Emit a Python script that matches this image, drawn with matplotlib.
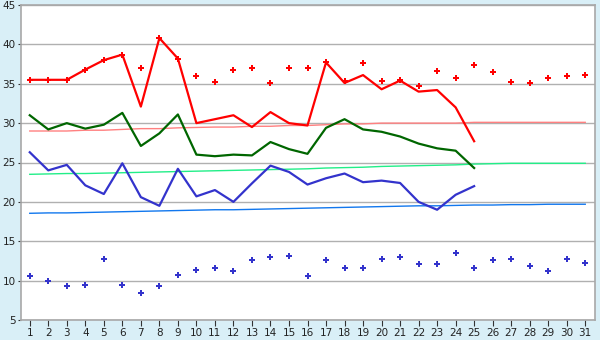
import matplotlib
matplotlib.use("Agg")
import matplotlib.pyplot as plt

days = list(range(1, 32))
obs_days = list(range(1, 26))

max_temp = [35.5, 35.5, 35.5, 36.8, 38.0, 38.7, 32.1, 40.8, 38.2, 30.0,
            30.5, 31.0, 29.5, 31.4, 30.0, 29.7, 37.7, 35.1, 36.1, 34.3,
            35.4, 34.0, 34.2, 32.0, 27.7]
mean_temp = [31.0, 29.2, 30.0, 29.3, 29.8, 31.3, 27.1, 28.7, 31.1, 26.0,
             25.8, 26.0, 25.9, 27.6, 26.7, 26.1, 29.4, 30.5, 29.2, 28.9,
             28.3, 27.4, 26.8, 26.5, 24.3]
min_temp = [26.3, 24.0, 24.7, 22.1, 21.0, 24.9, 20.6, 19.5, 24.2, 20.7,
            21.5, 20.0, 22.35, 24.6, 23.8, 22.2, 23.0, 23.6, 22.5, 22.7,
            22.4, 20.0, 19.0, 20.9, 22.0]

record_max = [35.5, 35.5, 35.5, 36.8, 38.0, 38.7, 37.0, 40.8, 38.2, 36.0,
              35.2, 36.7, 37.0, 35.1, 37.0, 37.0, 37.7, 35.3, 37.6, 35.3,
              35.5, 34.7, 36.6, 35.7, 37.4, 36.5, 35.2, 35.1, 35.7, 36.0,
              36.1]
record_min = [10.6, 9.9, 9.3, 9.4, 12.8, 9.5, 8.4, 9.3, 10.7, 11.4,
              11.6, 11.2, 12.6, 13.0, 13.1, 10.6, 12.6, 11.6, 11.6, 12.8,
              13.0, 12.1, 12.1, 13.5, 11.6, 12.6, 12.7, 11.8, 11.2, 12.8,
              12.2]

normal_max = [29.0, 29.0, 29.0, 29.1, 29.1, 29.2, 29.3, 29.3, 29.4, 29.45,
              29.5, 29.5, 29.6, 29.6, 29.7, 29.7, 29.8, 29.9, 29.9, 30.0,
              30.0, 30.0, 30.0, 30.0, 30.1, 30.1, 30.1, 30.1, 30.1, 30.1,
              30.1]
normal_mean = [23.5, 23.55, 23.6, 23.6, 23.65, 23.7, 23.75, 23.8, 23.85, 23.9,
               23.95, 24.0, 24.05, 24.1, 24.15, 24.2, 24.3, 24.35, 24.4, 24.5,
               24.55, 24.6, 24.65, 24.7, 24.8, 24.85, 24.9, 24.9, 24.9, 24.9,
               24.9]
normal_min = [18.55, 18.6, 18.6, 18.65, 18.7, 18.75, 18.8, 18.85, 18.9, 18.95,
              19.0, 19.0, 19.05, 19.1, 19.15, 19.2, 19.25, 19.3, 19.35, 19.4,
              19.45, 19.5, 19.5, 19.55, 19.6, 19.6, 19.65, 19.65, 19.7, 19.7,
              19.7]

yticks = [5, 10, 15, 20, 25, 30, 35, 40, 45]

bg = "#d9eff7"
fig = plt.figure(figsize=(6.0, 3.4), dpi=100, facecolor=bg)
ax = fig.add_axes([20.5 / 600, 1 - 320 / 340, 574 / 600, 315 / 340])
ax.set_facecolor("white")

ax.plot(days, normal_max, color="#ff8080", lw=1.0, zorder=2)
ax.plot(days, normal_mean, color="#22ee88", lw=1.0, zorder=2)
ax.plot(days, normal_min, color="#1177ee", lw=1.0, zorder=2)

ax.plot(obs_days, max_temp, color="#ff0000", lw=1.6, zorder=3)
ax.plot(obs_days, mean_temp, color="#006600", lw=1.6, zorder=3)
ax.plot(obs_days, min_temp, color="#3333cc", lw=1.6, zorder=3)

ax.plot(days, record_max, linestyle="none", marker="P", markersize=4.8,
        color="#ff0000", markeredgewidth=0, zorder=4)
ax.plot(days, record_min, linestyle="none", marker="P", markersize=4.8,
        color="#3333cc", markeredgewidth=0, zorder=4)

ax.set_xlim(0.5, 31.5)
ax.set_ylim(5, 45)
ax.set_xticks(days)
ax.set_xticklabels([str(d) for d in days])
ax.set_yticks(yticks)
ax.set_yticklabels([str(v) for v in yticks])
ax.yaxis.grid(True, color="#b0b0b0", lw=1.0)
ax.set_axisbelow(True)
for s in ax.spines.values():
    s.set_color("#a8a8a8")
    s.set_linewidth(1.2)
ax.tick_params(axis="x", labelsize=7.5, color="#333333", length=4,
               width=0.8, pad=2, labelcolor="#222222")
ax.tick_params(axis="y", labelsize=7.5, color="#333333", length=2.5,
               width=0.8, pad=1, labelcolor="#222222")

fig.savefig("out.png", dpi=100, facecolor=bg)
